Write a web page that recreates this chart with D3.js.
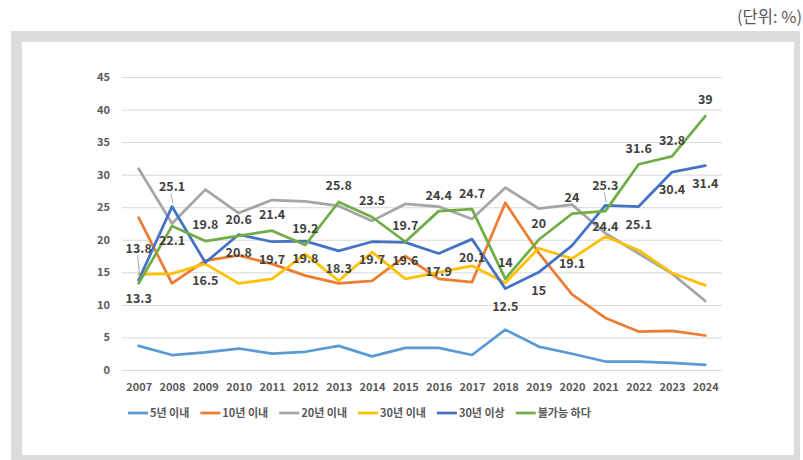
<!DOCTYPE html>
<html>
<head>
<meta charset="utf-8">
<script src="https://cdn.jsdelivr.net/npm/d3@7/dist/d3.min.js"></script>
<style>
  body { margin: 0; background: #fff; }
  text { font-family: "Noto Sans CJK KR", "Noto Sans", sans-serif; }
</style>
</head>
<body>
<div id="chart"></div>
<script>
const years = [2007, 2008, 2009, 2010, 2011, 2012, 2013, 2014, 2015, 2016, 2017, 2018, 2019, 2020, 2021, 2022, 2023, 2024]
const yTicks = [0, 5, 10, 15, 20, 25, 30, 35, 40, 45]

const names = ['5년 이내', '10년 이내', '20년 이내', '30년 이내', '30년 이상', '불가능 하다']
const colors = ['#5B9BD5', '#ED7D31', '#A5A5A5', '#FFC000', '#4472C4', '#70AD47']

const within5 = [3.7, 2.3, 2.7, 3.3, 2.5, 2.8, 3.7, 2.1, 3.4, 3.4, 2.3, 6.2, 3.6, 2.5, 1.3, 1.3, 1.1, 0.8]
const within10 = [23.4, 13.3, 16.8, 17.6, 16.3, 14.5, 13.3, 13.7, 17.5, 14.0, 13.5, 25.7, 18.0, 11.6, 8.0, 5.9, 6.0, 5.3]
const within20 = [30.9, 22.5, 27.7, 24.1, 26.1, 25.9, 25.2, 22.9, 25.5, 25.1, 23.2, 28.0, 24.8, 25.4, 21.0, 17.9, 14.8, 10.6]
const within30 = [14.7, 14.8, 16.3, 13.3, 14.0, 17.8, 13.7, 18.1, 14.0, 15.0, 16.0, 13.4, 18.7, 17.1, 20.5, 18.4, 14.9, 13.0]
const over30 = [13.8, 25.1, 16.5, 20.8, 19.7, 19.8, 18.3, 19.7, 19.6, 17.9, 20.1, 12.5, 15, 19.1, 25.3, 25.1, 30.4, 31.4]
const impossible = [13.3, 22.1, 19.8, 20.6, 21.4, 19.2, 25.8, 23.5, 19.7, 24.4, 24.7, 14, 20, 24, 24.4, 31.6, 32.8, 39]

const seriesValues = [within5, within10, within20, within30, over30, impossible]
// labelled series: 30년 이상 (below by default) and 불가능 하다 (above by default)
const swappedLabelYears = [2007, 2008, 2021]

const W = 803, H = 460
const plot = { left: 122, right: 722, top: 77, bottom: 370 }

const svg = d3.select('#chart').append('svg')
    .attr('width', W)
    .attr('height', H)

// grey frame
svg.append('rect').attr('x', 11).attr('y', 31).attr('width', 789).attr('height', 429).attr('fill', '#DBDCDE')
svg.append('rect').attr('x', 22).attr('y', 42).attr('width', 772).attr('height', 413).attr('fill', '#fff')

svg.append('text')
    .attr('x', 802)
    .attr('y', 23)
    .attr('text-anchor', 'end')
    .attr('font-size', 16.5)
    .attr('fill', '#595959')
    .text('(단위: %)')

const xScale = d3.scalePoint().domain(years).range([plot.left, plot.right]).padding(0.5)
const yScale = d3.scaleLinear().domain([0, 45]).range([plot.bottom, plot.top])

const yAxis = d3.axisLeft(yScale).tickValues(yTicks).tickSize(-(plot.right - plot.left)).tickPadding(12)
const xAxis = d3.axisBottom(xScale).tickSize(0).tickPadding(13)

const gy = svg.append('g')
    .attr('transform', `translate(${plot.left},0)`)
    .call(yAxis)
gy.select('.domain').remove()
gy.selectAll('line').attr('stroke', '#D9D9D9').attr('stroke-width', 1)
gy.selectAll('text')
    .attr('font-size', 11)
    .attr('font-weight', 'bold')
    .attr('fill', '#595959')
    .attr('font-family', '"Noto Sans CJK KR", "Noto Sans", sans-serif')

const gx = svg.append('g')
    .attr('transform', `translate(0,${plot.bottom})`)
    .call(xAxis)
gx.select('.domain').remove()
gx.selectAll('text')
    .attr('font-size', 11)
    .attr('font-weight', 'bold')
    .attr('fill', '#595959')
    .attr('font-family', '"Noto Sans CJK KR", "Noto Sans", sans-serif')

const line = d3.line()
    .x((d, i) => xScale(years[i]))
    .y(d => yScale(d))

seriesValues.forEach((vals, s) => {
    svg.append('path')
        .datum(vals)
        .attr('d', line)
        .attr('fill', 'none')
        .attr('stroke', colors[s])
        .attr('stroke-width', 2.75)
        .attr('stroke-linejoin', 'round')
        .attr('stroke-linecap', 'round')
})

// data labels
const labelled = [
    { vals: over30, side: 1 },
    { vals: impossible, side: -1 }
]
labelled.forEach(l => {
    l.vals.forEach((v, i) => {
        const yr = years[i]
        const swapped = swappedLabelYears.includes(yr)
        const side = swapped ? -l.side : l.side
        const px = xScale(yr), py = yScale(v)
        let ly
        if (swapped) ly = side < 0 ? py - 20 : py + 15
        else ly = side < 0 ? py - 16 : py + 18
        if (swapped && side < 0 && i === 0) ly -= 12
        svg.append('text')
            .attr('x', px)
            .attr('y', ly)
            .attr('dy', '0.35em')
            .attr('text-anchor', 'middle')
            .attr('font-size', 12.5)
            .attr('font-weight', 'bold')
            .attr('fill', '#404040')
            .text(v)
        if (swapped && side < 0) {
            svg.append('line')
                .attr('x1', px - 1).attr('y1', ly + 7)
                .attr('x2', px + 1).attr('y2', py - 3)
                .attr('stroke', '#A6A6A6')
                .attr('stroke-width', 1)
        }
    })
})

// legend
const legend = svg.append('g').attr('transform', 'translate(128,413)')
let lx = 0
names.forEach((n, i) => {
    const g = legend.append('g').attr('transform', `translate(${lx},0)`)
    g.append('line')
        .attr('x1', 0).attr('x2', 20)
        .attr('stroke', colors[i])
        .attr('stroke-width', 2.75)
    const t = g.append('text')
        .attr('x', 22)
        .attr('dy', '0.35em')
        .attr('font-size', 11)
        .attr('font-weight', 'bold')
        .attr('fill', '#595959')
        .text(n)
    lx += 22 + t.node().getComputedTextLength() + 11
})
</script>
</body>
</html>
